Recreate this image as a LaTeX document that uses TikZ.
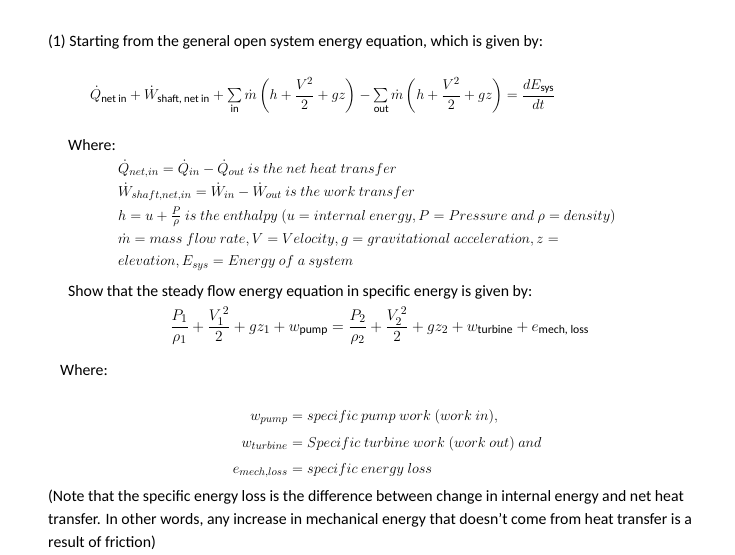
\documentclass[tikz,border=0pt]{standalone}
\usepackage{amsmath}
\usepackage{fontspec}
\setmainfont{Carlito}
\newfontfamily\carl{Carlito}
\newcommand{\ct}[1]{\text{\carl #1}}
\begin{document}
\begin{tikzpicture}[x=1pt,y=-1pt,
  txt/.style={anchor=west,inner sep=0pt,font=\fontsize{15.8}{18}\selectfont},
  mth/.style={anchor=west,inner sep=0pt,font=\fontsize{15.6}{18}\selectfont}]
\useasboundingbox[fill=white] (0,0) rectangle (735,554);
\node[txt] (t1) at (48,42) {(1) Starting from the general open system energy equation, which is given by:};
\node[mth,scale=0.99] (e1) at (90,96) {$\dot Q_{\ct{net in}}+\dot W_{\ct{shaft, net in}}+\sum\limits_{\ct{in}}\dot m\left(h+\dfrac{V^2}{2}+gz\right)-\sum\limits_{\ct{out}}\dot m\left(h+\dfrac{V^2}{2}+gz\right)=\dfrac{dE_{\ct{sys}}}{dt}$};
\node[txt] (w1) at (68,145) {Where:};
\node[mth] (l1) at (118,169) {$\dot Q_{net,in}=\dot Q_{in}-\dot Q_{out}~is~the~net~heat~transfer$};
\node[mth] (l2) at (118,192) {$\dot W_{shaft,net,in}=\dot W_{in}-\dot W_{out}~is~the~work~transfer$};
\node[mth] (l3) at (118,217) {$h=u+\tfrac{P}{\rho}~is~the~enthalpy~(u=internal~energy,P=Pressure~and~\rho=density)$};
\node[mth] (l4) at (118,240) {$\dot m=mass~flow~rate,V=Velocity,g=gravitational~acceleration,z=$};
\node[mth] (l5) at (118,263) {$elevation,E_{sys}=Energy~of~a~system$};
\node[txt] (t2) at (68,292) {Show that the steady flow energy equation in specific energy is given by:};
\node[mth,scale=1.07] (e2) at (170,326) {$\dfrac{P_1}{\rho_1}+\dfrac{V_1^{\,2}}{2}+gz_1+w_{\ct{pump}}=\dfrac{P_2}{\rho_2}+\dfrac{V_2^{\,2}}{2}+gz_2+w_{\ct{turbine}}+e_{\ct{mech, loss}}$};
\node[txt] (w2) at (60,370) {Where:};
\node[mth,anchor=base east] (a1) at (288,420) {$w_{pump}$};
\node[mth,anchor=base west] (b1) at (a1.base east) {$\;=specific~pump~work~(work~in),$};
\node[mth,anchor=base east] (a2) at (288,447) {$w_{turbine}$};
\node[mth,anchor=base west] (b2) at (a2.base east) {$\;=Specific~turbine~work~(work~out)~and$};
\node[mth,anchor=base east] (a3) at (288,473) {$e_{mech,loss}$};
\node[mth,anchor=base west] (b3) at (a3.base east) {$\;=specific~energy~loss$};
\node[txt] (n1) at (48,497) {(Note that the specific energy loss is the difference between change in internal energy and net heat};
\node[txt] (n2) at (48,520) {transfer. In other words, any increase in mechanical energy that doesn't come from heat transfer is a};
\node[txt] (n3) at (48,543) {result of friction)};
\end{tikzpicture}
\end{document}
